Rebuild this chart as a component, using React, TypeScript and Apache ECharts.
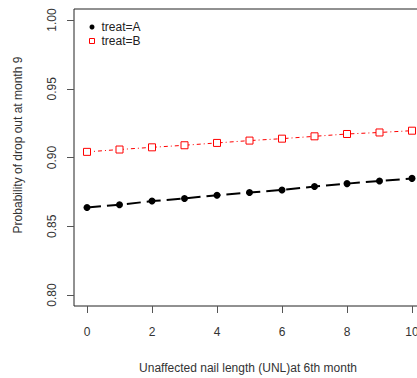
import React, { useEffect, useRef } from "react";
import * as echarts from "echarts";

const xValues = [0, 1, 2, 3, 4, 5, 6, 7, 8, 9, 10];
const seriesA = [0.8637, 0.8656, 0.8683, 0.8702, 0.8726, 0.8745, 0.8764, 0.8789, 0.881, 0.8829, 0.8848];
const seriesB = [0.9041, 0.9058, 0.9074, 0.9089, 0.9106, 0.9123, 0.9137, 0.9154, 0.9171, 0.9182, 0.9195];
const xTicks = [0, 2, 4, 6, 8, 10];
const yTicks = [0.8, 0.85, 0.9, 0.95, 1.0];
const seriesNames = ["treat=A", "treat=B"];
const xTitle = "Unaffected nail length (UNL)at 6th month";
const yTitle = "Probability of drop out at month 9";

export default function App() {
  const ref = useRef<HTMLDivElement>(null);
  useEffect(() => {
    if (!ref.current) return;
    const chart = echarts.init(ref.current, null, { renderer: "svg" });
    const font = "Liberation Sans, Arial, sans-serif";
    chart.setOption({
      animation: false,
      backgroundColor: "#fff",
      grid: {
        left: 74,
        top: 9,
        right: 8,
        bottom: 72,
        show: true,
        borderColor: "#222",
        borderWidth: 1,
        backgroundColor: "transparent",
      },
      legend: {
        orient: "vertical",
        left: 84,
        top: 16,
        itemWidth: 5,
        itemHeight: 5,
        itemGap: 2,
        textStyle: { fontFamily: font, fontSize: 12, color: "#222", padding: [0, 0, 0, 2] },
        data: [
          { name: seriesNames[0], icon: "circle", itemStyle: { color: "#000" } },
          {
            name: seriesNames[1],
            icon: "rect",
            itemStyle: { color: "#fff", borderColor: "#ff0000", borderWidth: 1 },
          },
        ],
      },
      xAxis: {
        type: "value",
        min: -0.4,
        max: 10.4,
        axisLine: { show: false, onZero: false },
        splitLine: { show: false },
        axisTick: { show: true, length: 7, inside: false, customValues: xTicks, lineStyle: { color: "#555" } },
        axisLabel: {
          customValues: xTicks,
          margin: 20,
          fontFamily: font,
          fontSize: 12,
          color: "#333",
        },
      },
      yAxis: {
        type: "value",
        min: 0.792,
        max: 1.008,
        axisLine: { show: false, onZero: false },
        splitLine: { show: false },
        axisTick: { show: true, length: 7, inside: false, customValues: yTicks, lineStyle: { color: "#555" } },
        axisLabel: {
          customValues: yTicks,
          rotate: 90,
          margin: 16,
          fontFamily: font,
          fontSize: 12,
          color: "#333",
          formatter: (v: number) => v.toFixed(2),
        },
      },
      graphic: [
        {
          type: "text",
          x: 248,
          y: 368,
          style: {
            text: xTitle,
            fontFamily: font,
            fontSize: 12,
            fill: "#333",
            textAlign: "center",
            textVerticalAlign: "middle",
          },
        },
        {
          type: "text",
          x: 18,
          y: 145,
          rotation: Math.PI / 2,
          style: {
            text: yTitle,
            fontFamily: font,
            fontSize: 12,
            fill: "#333",
            textAlign: "center",
            textVerticalAlign: "middle",
          },
        },
      ],
      series: [
        {
          name: seriesNames[0],
          type: "line",
          data: xValues.map((x, i) => [x, seriesA[i]]),
          symbol: "circle",
          symbolSize: 7,
          itemStyle: { color: "#000" },
          lineStyle: { color: "#000", width: 2, type: [14, 6] },
        },
        {
          name: seriesNames[1],
          type: "line",
          data: xValues.map((x, i) => [x, seriesB[i]]),
          symbol: "rect",
          symbolSize: 7,
          itemStyle: { color: "#fff", borderColor: "#ff0000", borderWidth: 1 },
          lineStyle: { color: "#ff0000", width: 1, type: [4, 3, 1, 3] },
        },
      ],
    });
    return () => chart.dispose();
  }, []);
  return (
    <div style={{ position: "fixed", left: 0, top: 0, width: 417, height: 378, overflow: "hidden" }}>
      <div ref={ref} style={{ width: 433, height: 378 }} />
    </div>
  );
}
